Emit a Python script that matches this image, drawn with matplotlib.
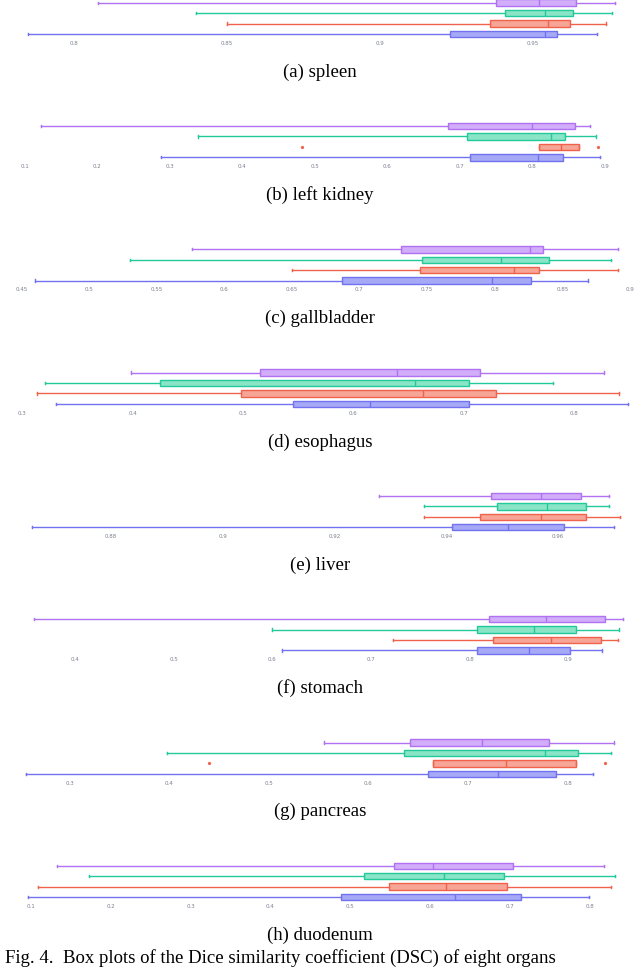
import matplotlib
matplotlib.use("Agg")
import matplotlib.pyplot as plt

# five-number summaries per method: [whisker low, q1, median, q3, whisker high]
# row order top to bottom: purple, teal, red, blue
spleen = [[0.808, 0.938, 0.952, 0.964, 0.977],
          [0.840, 0.941, 0.954, 0.963, 0.976],
          [0.850, 0.936, 0.955, 0.962, 0.974],
          [0.785, 0.923, 0.954, 0.958, 0.971]]
left_kidney = [[0.122, 0.684, 0.799, 0.858, 0.880],
               [0.339, 0.710, 0.825, 0.845, 0.888],
               [0.809, 0.809, 0.839, 0.864, 0.864],
               [0.288, 0.714, 0.807, 0.842, 0.893]]
gallbladder = [[0.576, 0.731, 0.826, 0.836, 0.891],
               [0.530, 0.746, 0.805, 0.840, 0.886],
               [0.650, 0.745, 0.814, 0.833, 0.891],
               [0.460, 0.687, 0.798, 0.827, 0.869]]
esophagus = [[0.398, 0.515, 0.640, 0.715, 0.827],
             [0.320, 0.425, 0.656, 0.705, 0.781],
             [0.313, 0.498, 0.663, 0.729, 0.841],
             [0.330, 0.545, 0.615, 0.705, 0.849]]
liver = [[0.928, 0.948, 0.957, 0.964, 0.969],
         [0.936, 0.949, 0.958, 0.965, 0.969],
         [0.936, 0.946, 0.957, 0.965, 0.971],
         [0.866, 0.941, 0.951, 0.961, 0.970]]
stomach = [[0.358, 0.820, 0.877, 0.937, 0.955],
           [0.600, 0.807, 0.865, 0.908, 0.951],
           [0.722, 0.824, 0.882, 0.933, 0.950],
           [0.610, 0.807, 0.860, 0.902, 0.934]]
pancreas = [[0.555, 0.642, 0.714, 0.781, 0.847],
            [0.398, 0.636, 0.777, 0.810, 0.844],
            [0.665, 0.665, 0.738, 0.808, 0.808],
            [0.256, 0.660, 0.730, 0.788, 0.826]]
duodenum = [[0.133, 0.554, 0.603, 0.703, 0.817],
            [0.173, 0.517, 0.617, 0.692, 0.831],
            [0.109, 0.548, 0.619, 0.696, 0.826],
            [0.096, 0.488, 0.631, 0.714, 0.798]]

# outliers (only the red method shows some)
left_kidney_fliers = [[], [], [0.482, 0.891], []]
pancreas_fliers = [[], [], [0.440, 0.838], []]

organs = ["spleen", "left kidney", "gallbladder", "esophagus",
          "liver", "stomach", "pancreas", "duodenum"]
letters = ["a", "b", "c", "d", "e", "f", "g", "h"]
panel_data = [spleen, left_kidney, gallbladder, esophagus,
              liver, stomach, pancreas, duodenum]
panel_fliers = [None, left_kidney_fliers, None, None,
                None, None, pancreas_fliers, None]

tick_values = [
    [0.8, 0.85, 0.9, 0.95],
    [0.1, 0.2, 0.3, 0.4, 0.5, 0.6, 0.7, 0.8, 0.9],
    [0.45, 0.5, 0.55, 0.6, 0.65, 0.7, 0.75, 0.8, 0.85, 0.9],
    [0.3, 0.4, 0.5, 0.6, 0.7, 0.8],
    [0.88, 0.9, 0.92, 0.94, 0.96],
    [0.4, 0.5, 0.6, 0.7, 0.8, 0.9],
    [0.3, 0.4, 0.5, 0.6, 0.7, 0.8],
    [0.1, 0.2, 0.3, 0.4, 0.5, 0.6, 0.7, 0.8],
]
tick_labels = [[f"{t:g}" for t in ticks] for ticks in tick_values]

# pixel position of first and last tick in each panel
tick_px = [(73.8, 532.8), (24.6, 605.0), (21.3, 635.0), (22.5, 573.8),
           (110.7, 558.2), (75.0, 568.4), (69.7, 567.6), (30.7, 590.2)]

edge_colors = ["#b072f2", "#22c99a", "#f0624c", "#7272f0"]
fill_colors = ["#d2adf9", "#8ae5c6", "#f6a596", "#a6a9f6"]

W, H = 640, 968
fig = plt.figure(figsize=(W / 100, H / 100), dpi=100)

ax_left, ax_right = 20, 630
for i in range(8):
    cap_y = 72 + 123.3 * i
    top_px = cap_y - 74.5
    bot_px = cap_y - 32.8
    ax = fig.add_axes([ax_left / W, 1 - bot_px / H,
                       (ax_right - ax_left) / W, (bot_px - top_px) / H])

    ticks = tick_values[i]
    p0, p1 = tick_px[i]
    slope = (ticks[-1] - ticks[0]) / (p1 - p0)
    ax.set_xlim(ticks[0] + (ax_left - p0) * slope,
                ticks[0] + (ax_right - p0) * slope)
    ax.set_ylim(0.5, 4.5)

    stats = []
    for j, row in enumerate(panel_data[i]):
        fl = panel_fliers[i][j] if panel_fliers[i] else []
        stats.append(dict(whislo=row[0], q1=row[1], med=row[2],
                          q3=row[3], whishi=row[4], fliers=fl))
    positions = [4, 3, 2, 1]
    for j in range(4):
        c = edge_colors[j]
        ax.bxp([stats[j]], positions=[positions[j]], widths=0.62,
               orientation="horizontal", patch_artist=True,
               boxprops=dict(facecolor=fill_colors[j], edgecolor=c, linewidth=1.0),
               medianprops=dict(color=c, linewidth=1.0),
               whiskerprops=dict(color=c, linewidth=1.0),
               capprops=dict(color=c, linewidth=1.0),
               flierprops=dict(marker="o", markersize=1.3, markerfacecolor=c,
                               markeredgecolor=c),
               capwidths=0.22, manage_ticks=False)

    for s in ax.spines.values():
        s.set_visible(False)
    ax.set_yticks([])
    ax.set_xticks(ticks)
    ax.set_xticklabels(tick_labels[i])
    ax.tick_params(axis="x", length=0, pad=1.2, labelsize=4, labelcolor="#7a8090")
    ax.patch.set_alpha(0)

    fig.text(0.5, 1 - cap_y / H, f"({letters[i]}) {organs[i]}",
             ha="center", va="center", fontsize=13.5, family="Liberation Serif")

fig.text(5 / W, 1 / H,
         "Fig. 4.  Box plots of the Dice similarity coefficient (DSC) of eight organs",
         ha="left", va="bottom", fontsize=13.5, family="Liberation Serif")

fig.savefig("out.png", dpi=100)
